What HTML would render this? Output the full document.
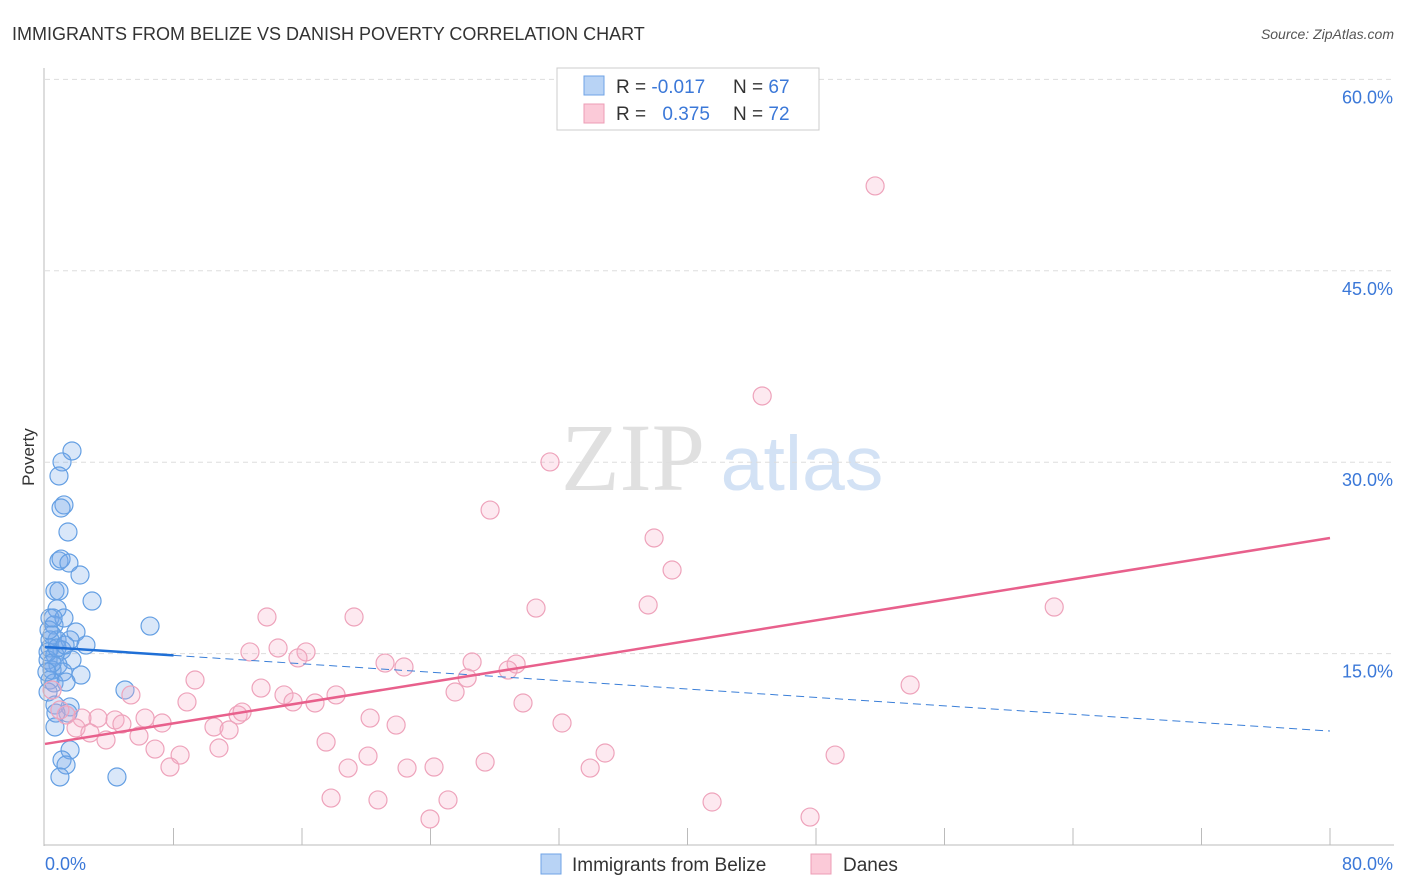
<!DOCTYPE html>
<html><head><meta charset="utf-8"><style>
body{margin:0;background:#fff;font-family:"Liberation Sans",sans-serif;}
#c{position:relative;width:1406px;height:892px;overflow:hidden;}
</style></head><body>
<div id="c">
<svg id="s" width="1406" height="892" xmlns="http://www.w3.org/2000/svg" font-family="Liberation Sans, sans-serif">
<text x="12" y="40" font-size="18" fill="#333">IMMIGRANTS FROM BELIZE VS DANISH POVERTY CORRELATION CHART</text>
<text x="1394" y="39" font-size="14" fill="#555" font-style="italic" text-anchor="end">Source: ZipAtlas.com</text>
<text x="34" y="457" font-size="17" fill="#333" transform="rotate(-90 34 457)" text-anchor="middle">Poverty</text>
<g><text x="633" y="490" font-size="96" fill="#e0e0e0" font-family="Liberation Serif, serif" text-anchor="middle">ZIP</text><text x="802" y="490" font-size="77" fill="#d3e2f5" text-anchor="middle">atlas</text></g>
<g id="grid"></g><g id="pts"></g><g id="lines"></g>
<line x1="44" y1="68" x2="44" y2="846" stroke="#bbb"/>
<line x1="44" y1="845" x2="1394" y2="845" stroke="#bbb"/>
<text x="45" y="870" font-size="18" fill="#3b78d8">0.0%</text>
<text x="1393" y="870" font-size="18" fill="#3b78d8" text-anchor="end">80.0%</text>
<g>
<rect x="557" y="68" width="262" height="62" fill="#fff" stroke="#ccc"/>
<rect x="584" y="76" width="20" height="19" fill="#b8d3f5" stroke="#6fa3e6"/>
<rect x="584" y="104" width="20" height="19" fill="#fbcad8" stroke="#ec9cb6"/>
<text x="616" y="93" font-size="19" fill="#333">R = <tspan fill="#3b78d8">-0.017</tspan></text>
<text x="733" y="93" font-size="19" fill="#333">N = <tspan fill="#3b78d8">67</tspan></text>
<text x="616" y="120" font-size="19" fill="#333">R = <tspan fill="#3b78d8" dx="11">0.375</tspan></text>
<text x="733" y="120" font-size="19" fill="#333">N = <tspan fill="#3b78d8">72</tspan></text>
</g>
<g>
<rect x="541" y="854" width="20" height="20" fill="#b8d3f5" stroke="#6fa3e6"/>
<text x="572" y="871" font-size="19" fill="#333">Immigrants from Belize</text>
<rect x="811" y="854" width="20" height="20" fill="#fbcad8" stroke="#ec9cb6"/>
<text x="843" y="871" font-size="19" fill="#333">Danes</text>
</g>
</svg>
</div>
<script>
const yTicks=[15,30,45,60];
const xTicks=[0,8,16,24,32,40,48,56,64,72,80];
const blueX=[1.68,1.06,0.87,1.18,1.0,1.43,0.87,1.0,1.49,2.18,0.62,0.87,2.93,0.75,6.54,0.31,0.56,1.18,1.93,0.44,0.75,1.56,2.55,0.31,1.06,0.62,1.68,0.19,0.81,0.44,1.12,2.24,0.31,0.56,1.31,0.19,4.98,0.62,1.56,1.43,0.68,0.62,1.56,1.06,1.31,0.93,4.48,0.31,0.19,0.44,0.12,0.75,1.25,0.25,0.50];
const blueY=[30.88,30.02,28.92,26.65,26.41,24.53,22.26,22.41,22.10,21.16,19.91,19.91,19.12,18.50,17.16,17.79,17.24,17.79,16.69,16.46,16.07,16.07,15.67,15.44,15.28,14.89,14.50,14.50,14.11,13.71,13.56,13.32,12.93,12.70,12.77,11.99,12.15,10.97,10.82,10.34,10.34,9.25,7.45,6.66,6.27,5.33,5.33,16.07,15.13,14.26,13.56,15.44,15.67,16.85,17.79];
const pinkX=[51.68,44.65,31.44,27.71,37.92,39.04,62.83,37.55,30.57,19.24,13.82,14.51,12.76,16.25,15.75,21.17,22.35,26.59,29.33,28.83,26.28,13.45,25.53,14.88,18.12,53.86,9.34,8.84,15.44,16.81,29.76,5.35,12.02,12.27,3.30,4.36,2.30,1.31,6.23,7.29,10.52,11.46,20.24,21.86,32.19,1.93,2.80,4.79,5.85,3.80,10.83,6.85,8.41,17.50,20.11,34.87,49.19,18.87,22.54,24.22,27.40,33.94,7.78,17.81,20.73,25.09,41.53,23.97,47.63,0.93,0.44];
const pinkY=[51.65,35.19,30.02,26.25,24.06,21.55,18.65,18.81,18.57,17.87,17.87,15.44,15.13,15.13,14.66,14.26,13.95,14.34,14.18,13.71,13.09,12.30,11.99,11.76,11.76,12.54,12.93,11.21,11.21,11.13,11.13,11.76,10.19,10.42,9.95,9.80,9.95,10.19,9.95,9.56,9.25,9.01,9.95,9.40,9.56,9.17,8.78,9.48,8.54,8.23,7.60,7.52,7.05,8.07,6.97,7.21,7.05,6.03,6.03,6.11,6.50,6.03,6.11,3.68,3.53,3.53,3.37,2.04,2.19,10.58,12.15];
const blueTrend=[15.52,8.93];
const pinkTrend=[7.92,24.06];
const NS='http://www.w3.org/2000/svg';
const X=v=>45+v*16.0625, Y=v=>845-v*12.76;
function mk(t,a,p){const e=document.createElementNS(NS,t);for(const k in a)e.setAttribute(k,a[k]);p.appendChild(e);return e;}
const grid=document.getElementById('grid');
yTicks.forEach(t=>{
 const l=mk('line',{x1:45,x2:1394,y1:Y(t),y2:Y(t),stroke:'#ddd','stroke-dasharray':'5,4'},grid);
 
 
 const tx=mk('text',{x:1393,y:Y(t)+24,'font-size':18,fill:'#3b78d8','text-anchor':'end'},grid);
 tx.textContent=t.toFixed(1)+'%';
 
 
});
xTicks.forEach(t=>{
 if(t===0)return;
 const l=mk('line',{x1:X(t),x2:X(t),y1:828,y2:845,stroke:'#bbb'},grid);
 
 
});
const pts=document.getElementById('pts');
blueX.forEach((v,i)=>{
 const c=mk('circle',{cx:X(v),cy:Y(blueY[i]),r:9,fill:'rgba(120,170,235,0.28)',stroke:'#649fe3','stroke-width':1.2},pts);
 
 
});
pinkX.forEach((v,i)=>{
 const c=mk('circle',{cx:X(v),cy:Y(pinkY[i]),r:9,fill:'rgba(247,175,200,0.28)',stroke:'#eea3bb','stroke-width':1.2},pts);
 
 
});
const lines=document.getElementById('lines');
const bAt=x=>blueTrend[0]+(blueTrend[1]-blueTrend[0])*x/80;
const b1=mk('line',{x1:X(0),y1:Y(bAt(0)),x2:X(8),y2:Y(bAt(8)),stroke:'#1f6fd6','stroke-width':2.5},lines);


const b2=mk('line',{x1:X(8),y1:Y(bAt(8)),x2:X(80),y2:Y(bAt(80)),stroke:'#3b7fd8','stroke-width':1,'stroke-dasharray':'8,5'},lines);


const p1=mk('line',{x1:X(0),y1:Y(pinkTrend[0]),x2:X(80),y2:Y(pinkTrend[1]),stroke:'#e8608c','stroke-width':2.5},lines);


</script>
</body></html>
